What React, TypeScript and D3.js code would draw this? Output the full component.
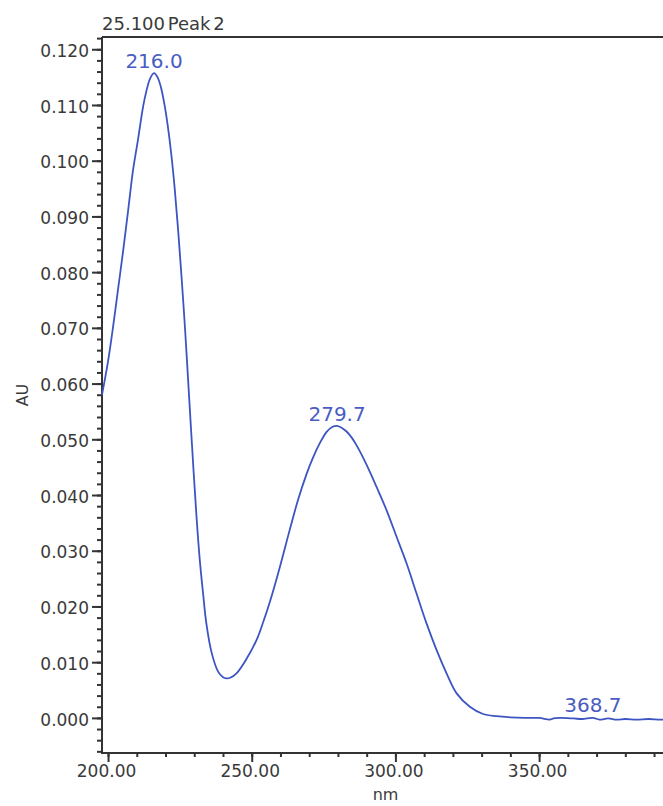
import React, { useEffect, useRef } from "react";
import * as d3 from "d3";

const wavelengths = [
  197.9, 200.0, 201.7, 203.5, 205.2, 207.0, 208.7, 210.4, 212.2, 213.3, 214.6, 216.0, 217.2, 218.4, 219.6,
  220.8, 222.0, 223.2, 224.4, 225.6, 226.8, 227.8, 228.8, 229.8, 230.8, 231.9, 233.1, 234.2, 236.0, 238.3,
  240.0, 241.2, 242.5, 244.7, 248.2, 251.7, 254.0, 256.3, 259.8, 263.2, 266.1, 269.1, 271.4, 273.7, 276.0,
  278.0, 279.7, 281.5, 283.0, 284.8, 286.5, 289.9, 293.4, 296.9, 300.4, 303.9, 307.3, 310.8, 314.3, 317.8,
  321.3, 325.9, 330.5, 335.2, 340.0, 345.0, 350.0, 353.7, 355.0, 357.0, 362.0, 365.0, 368.7, 371.0, 374.0,
  377.0, 380.0, 384.0, 388.0, 392.0, 395.2,
];
const absorbance = [
  0.058, 0.064, 0.07, 0.077, 0.0836, 0.0911, 0.0983, 0.1037, 0.1097, 0.1124, 0.1147, 0.1157, 0.115, 0.1132,
  0.1102, 0.1062, 0.1012, 0.095, 0.0875, 0.079, 0.0698, 0.0612, 0.0525, 0.044, 0.036, 0.0285, 0.0222, 0.017,
  0.0118, 0.0083, 0.0073, 0.0071, 0.0072, 0.008, 0.0106, 0.014, 0.0172, 0.0208, 0.0271, 0.0337, 0.0391,
  0.0438, 0.0468, 0.0493, 0.0513, 0.0522, 0.0524, 0.052, 0.0514, 0.0503, 0.0489, 0.0455, 0.0415, 0.0373,
  0.0325, 0.0277, 0.0224, 0.017, 0.0122, 0.008, 0.0044, 0.002, 0.0007, 0.0003, 0.0001, 0.0, 0.0, -0.0003,
  -0.0001, 0.0, -0.0001, -0.0002, 0.0, -0.0003, -0.0001, -0.0003, -0.0002, -0.0003, -0.0002, -0.0003, -0.0003,
];
const peakNm = [216.0, 279.7, 368.7];
const peakLabels = ["216.0", "279.7", "368.7"];
const peakAbs = [0.1157, 0.0524, 0.0001];
const yMajorTicks = [0.0, 0.01, 0.02, 0.03, 0.04, 0.05, 0.06, 0.07, 0.08, 0.09, 0.1, 0.11, 0.12];
const xMajorTicks = [200, 250, 300, 350];
const title = "25.100 Peak 2";
const xLabel = "nm";
const yLabel = "AU";

const W = 663;
const H = 806;

export default function App() {
  const ref = useRef<SVGSVGElement | null>(null);

  useEffect(() => {
    const svg = d3.select(ref.current);
    svg.selectAll("*").remove();

    const left = 102, right = 669, top = 37, bottom = 753;
    const x = d3.scaleLinear().domain([197.9, 395.2]).range([left, right]);
    const y = d3.scaleLinear().domain([-0.0063, 0.1222]).range([bottom, top]);
    const axisColor = "#333";
    const textColor = "#3a3a3a";
    const font = "'DejaVu Sans', sans-serif";
    const blue = "#3d55c2";

    // frame
    svg.append("line").attr("x1", left).attr("x2", right).attr("y1", top).attr("y2", top)
      .attr("stroke", axisColor).attr("stroke-width", 2);
    svg.append("line").attr("x1", right).attr("x2", right).attr("y1", top).attr("y2", bottom)
      .attr("stroke", axisColor).attr("stroke-width", 2);

    // y axis
    const yAxis = d3.axisLeft(y).tickValues(yMajorTicks).tickSize(10).tickSizeOuter(0)
      .tickFormat((d) => d3.format(".3f")(d as number));
    const yMinor = d3.axisLeft(y).tickValues(d3.range(-6, 123, 2).map((v) => v / 1000))
      .tickSize(5).tickSizeOuter(0).tickFormat(() => "");
    const gyMinor = svg.append("g").attr("transform", `translate(${left},0)`).call(yMinor);
    const gy = svg.append("g").attr("transform", `translate(${left},0)`).call(yAxis);
    [gy, gyMinor].forEach((g) => {
      g.select(".domain").remove();
      g.selectAll("line").attr("stroke", axisColor).attr("stroke-width", 2);
    });
    gy.selectAll("text").attr("font-family", font).attr("font-size", 17).attr("fill", textColor)
      .attr("x", -13).attr("dy", "0.42em");
    svg.append("line").attr("x1", left).attr("x2", left).attr("y1", top).attr("y2", bottom + 1)
      .attr("stroke", axisColor).attr("stroke-width", 2);

    // x axis
    const xAxis = d3.axisBottom(x).tickValues(xMajorTicks).tickSize(9).tickSizeOuter(0)
      .tickFormat((d) => d3.format(".2f")(d as number));
    const xMinor = d3.axisBottom(x).tickValues(d3.range(200, 400, 10)).tickSize(4).tickSizeOuter(0)
      .tickFormat(() => "");
    const gxMinor = svg.append("g").attr("transform", `translate(0,${bottom})`).call(xMinor);
    const gx = svg.append("g").attr("transform", `translate(0,${bottom})`).call(xAxis);
    [gx, gxMinor].forEach((g) => {
      g.select(".domain").remove();
      g.selectAll("line").attr("stroke", axisColor).attr("stroke-width", 2);
    });
    gx.selectAll("text").attr("font-family", font).attr("font-size", 17).attr("fill", textColor)
      .attr("x", -2).attr("y", 12).attr("dy", "0.71em");
    svg.append("line").attr("x1", left - 1).attr("x2", right).attr("y1", bottom).attr("y2", bottom)
      .attr("stroke", axisColor).attr("stroke-width", 2);

    // title & labels
    svg.append("text").attr("x", left).attr("y", 30).attr("font-family", font).attr("font-size", 18)
      .attr("fill", textColor).attr("word-spacing", -3).text(title);
    svg.append("text").attr("x", (left + right) / 2).attr("y", 800).attr("text-anchor", "middle")
      .attr("font-family", font).attr("font-size", 16).attr("fill", textColor).text(xLabel);
    svg.append("text").attr("transform", `translate(28,${(top + bottom) / 2}) rotate(-90)`)
      .attr("text-anchor", "middle").attr("font-family", font).attr("font-size", 16)
      .attr("fill", textColor).text(yLabel);

    // curve
    const pts = wavelengths.map((w, i) => [w, absorbance[i]] as [number, number]);
    const line = d3.line<[number, number]>().x((d) => x(d[0])).y((d) => y(d[1]))
      .curve(d3.curveCatmullRom.alpha(0.5));
    svg.append("path").attr("d", line(pts)).attr("fill", "none").attr("stroke", blue).attr("stroke-width", 1.8);

    // peak labels
    peakNm.forEach((p, i) => {
      svg.append("text").attr("x", x(p)).attr("y", y(peakAbs[i]) - 5).attr("text-anchor", "middle")
        .attr("font-family", font).attr("font-size", 20).attr("fill", "#4a5cc4").text(peakLabels[i]);
    });
  }, []);

  return (
    <svg ref={ref} width={W} height={H}
      style={{ position: "absolute", left: 0, top: 0, background: "#fff", display: "block" }} />
  );
}
